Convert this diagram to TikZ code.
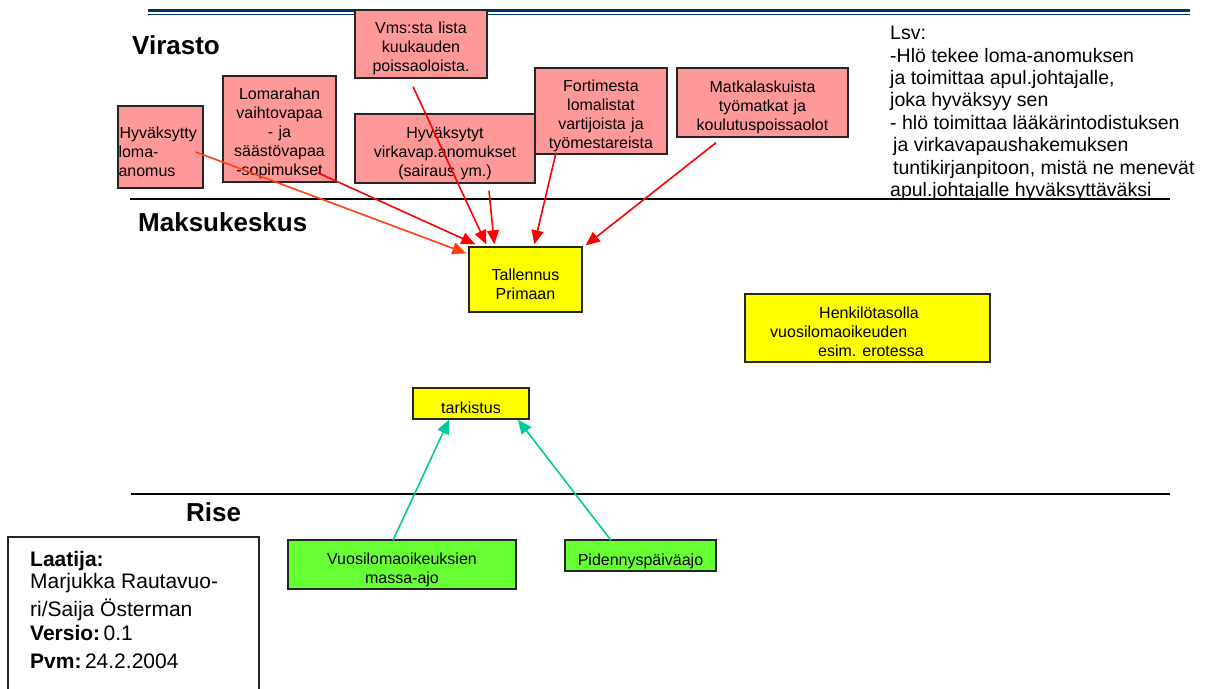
\documentclass[tikz,border=0pt]{standalone}
\usepackage{fontspec}
\setmainfont{Liberation Sans}
\usetikzlibrary{arrows.meta,calc}
\definecolor{pinkbox}{RGB}{255,153,153}
\definecolor{yelbox}{RGB}{255,255,0}
\definecolor{grnbox}{RGB}{102,255,51}
\definecolor{navyline}{RGB}{0,51,102}
\definecolor{arrred}{RGB}{255,0,0}
\definecolor{arrorange}{RGB}{255,64,16}
\definecolor{tealarr}{RGB}{0,204,153}
\newcommand\tpad{\rule{0pt}{21pt}}
\begin{document}
\begin{tikzpicture}[x=1pt,y=-1pt,
  box/.style={draw=black!85,line width=1.4pt,inner sep=0pt,align=center,font=\fontsize{16}{19}\selectfont},
  pinkb/.style={box,fill=pinkbox},
  yelb/.style={box,fill=yelbox},
  grnb/.style={box,fill=grnbox},
  section/.style={font=\fontsize{26}{30}\selectfont\bfseries,anchor=base west,inner sep=0pt},
  plain/.style={anchor=base west,inner sep=0pt},
  redarr/.style={draw=arrred,line width=1.6pt,-{Triangle[length=14pt,width=12pt]}},
  orarr/.style={draw=arrorange,line width=1.6pt,-{Triangle[length=14pt,width=12pt]}},
  grarr/.style={draw=tealarr,line width=1.6pt,-{Triangle[length=14pt,width=12pt]}},
  sepline/.style={draw=black,line width=1.5pt}
]
\useasboundingbox (0,0) rectangle (1207,688);
\fill[white] (0,0) rectangle (1207,688);

% top rule
\coordinate (tl1) at (148,10); \coordinate (tr1) at (1190,10);
\coordinate (tl2) at (148,14.5); \coordinate (tr2) at (1190,14.5);
\draw[navyline,line width=3pt] (tl1) -- (tr1);
\draw[navyline,line width=1.4pt] (tl2) -- (tr2);

% separators
\coordinate (sa1) at (130,199); \coordinate (sa2) at (1170,199);
\coordinate (sb1) at (131,494); \coordinate (sb2) at (1170,494);
\draw[sepline] (sa1) -- (sa2);
\draw[sepline] (sb1) -- (sb2);

% section labels
\node[section] (virasto) at (132,54) {Virasto};
\node[section] (maksu) at (138,231) {Maksukeskus};
\node[section] (rise) at (186,521) {Rise};

% pink boxes
\node[pinkb,align=left,minimum width=85pt,text width=84pt,minimum height=82pt] (hyv) at (160.5,147) {\tpad\hspace*{1pt}Hyväksytty\\loma-\\anomus};
\node[pinkb,minimum width=113pt,text width=113pt,minimum height=106pt] (lom) at (279.5,129) {\tpad Lomarahan\\vaihtovapaa\\- ja\\säästövapaa\\-sopimukset};
\node[pinkb,minimum width=132pt,text width=132pt,minimum height=68pt] (vms) at (421,44) {\tpad Vms:sta lista\\kuukauden\\poissaoloista.};
\node[pinkb,minimum width=180pt,text width=180pt,minimum height=69pt] (hvk) at (445,148.5) {\tpad Hyväksytyt\\virkavap.anomukset\\(sairaus ym.)};
\node[pinkb,minimum width=132pt,text width=132pt,minimum height=86pt] (fort) at (601,111) {\tpad Fortimesta\\lomalistat\\vartijoista ja\\työmestareista};
\node[pinkb,minimum width=171pt,text width=171pt,minimum height=69pt] (matka) at (762.5,102.5) {\tpad Matkalaskuista\\työmatkat ja\\koulutuspoissaolot};

% Lsv note
\node[anchor=north west,inner sep=0pt,align=left,font=\fontsize{19.5}{22.4}\selectfont] (lsv) at (890,26) {Lsv:\\-Hlö tekee loma-anomuksen\\ja toimittaa apul.johtajalle,\\joka hyväksyy sen\\- hlö toimittaa lääkärintodistuksen\\\hspace*{3pt}ja virkavapaushakemuksen\\\hspace*{3pt}tuntikirjanpitoon, mistä ne menevät\\apul.johtajalle hyväksyttäväksi};

% yellow boxes
\node[yelb,minimum width=113pt,text width=113pt,minimum height=65pt] (tall) at (525.5,279.5) {\tpad Tallennus\\Primaan};
\node[yelb,minimum width=245pt,minimum height=68pt] (henk) at (867.5,328) {};
\node[plain,font=\fontsize{16}{19}\selectfont] (h1) at (819,318.5) {Henkilötasolla};
\node[plain,font=\fontsize{16}{19}\selectfont] (h2) at (770,337.5) {vuosilomaoikeuden};
\node[plain,font=\fontsize{16}{19}\selectfont] (h3) at (818,356.5) {esim. erotessa};
\node[yelb,minimum width=116pt,text width=116pt,minimum height=31pt] (tark) at (471,403.5) {\tpad tarkistus};

% green boxes
\node[grnb,minimum width=228pt,text width=228pt,minimum height=49pt] (vuosi) at (402,564.5) {\rule{0pt}{23pt}Vuosilomaoikeuksien\\massa-ajo};
\node[grnb,minimum width=151pt,text width=151pt,minimum height=31pt] (pid) at (640.5,555.5) {\rule{0pt}{23pt}Pidennyspäiväajo};

% Laatija box
\coordinate (lb1) at (8,537); \coordinate (lb2) at (259,700);
\draw[black!85,line width=1.4pt] (lb1) rectangle (lb2);
\node[plain,font=\fontsize{21}{24}\selectfont\bfseries] (la1) at (30,566) {Laatija:};
\node[plain,font=\fontsize{21}{24}\selectfont] (la2) at (30,588) {Marjukka Rautavuo-};
\node[plain,font=\fontsize{21}{24}\selectfont] (la3) at (30,616) {ri/Saija Österman};
\node[plain,font=\fontsize{21}{24}\selectfont] (la4) at (30,640) {\textbf{Versio:}\,0.1};
\node[plain,font=\fontsize{21}{24}\selectfont] (la5) at (30,668) {\textbf{Pvm:}\,24.2.2004};

% arrow end points
\coordinate (s1) at ($(hyv.east)+(-8,5)$);
\coordinate (e1) at ($(tall.north west)+(-2,7)$);
\coordinate (s2) at ($(lom.south east)+(-19,-10)$);
\coordinate (e2) at ($(tall.north west)+(7,-2)$);
\coordinate (s3) at ($(vms.south)+(-8,8)$);
\coordinate (e3) at ($(tall.north west)+(18,-2)$);
\coordinate (s4) at ($(hvk.south)+(44,7)$);
\coordinate (e4) at ($(tall.north west)+(26,-2)$);
\coordinate (s5) at ($(fort.south)+(-45,-2)$);
\coordinate (e5) at ($(tall.north west)+(66,-2)$);
\coordinate (s6) at ($(matka.south)+(-46.5,5)$);
\coordinate (e6) at ($(tall.north east)+(3,-1)$);
\coordinate (g1s) at ($(vuosi.north)+(-9,1)$);
\coordinate (g1e) at ($(tark.south)+(-22,0)$);
\coordinate (g2s) at ($(pid.north)+(-29.5,1)$);
\coordinate (g2e) at ($(tark.south)+(47,0)$);

\draw[orarr] (s1) -- (e1);
\draw[redarr] (s2) -- (e2);
\draw[redarr] (s3) -- (e3);
\draw[redarr] (s4) -- (e4);
\draw[redarr] (s5) -- (e5);
\draw[redarr] (s6) -- (e6);
\draw[grarr] (g1s) -- (g1e);
\draw[grarr] (g2s) -- (g2e);
\end{tikzpicture}
\end{document}
